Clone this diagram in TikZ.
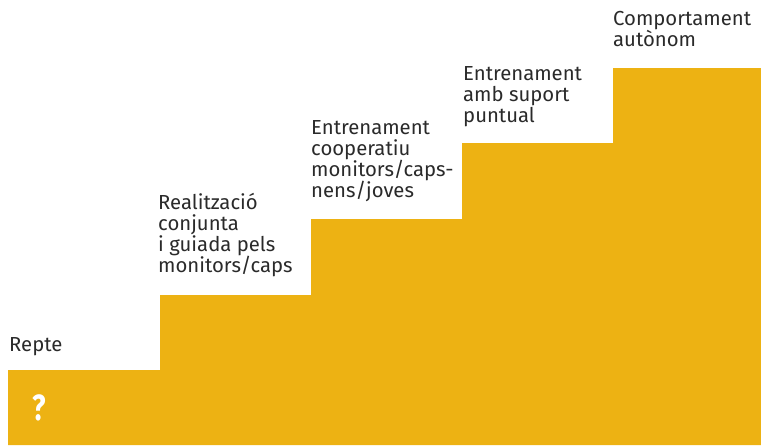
\documentclass[tikz,border=0pt]{standalone}
\usepackage{fontspec}
\setmainfont{Fira Sans}
\definecolor{stairgold}{HTML}{EDB213}
\definecolor{labelgray}{HTML}{2A2A2A}
\begin{document}
\begin{tikzpicture}[x=1pt,y=-1pt,
  lbl/.style={anchor=base west,inner sep=0pt,align=left,text=labelgray,
    font=\fontsize{20.3}{21}\selectfont},
  stairfill/.style={fill=stairgold,draw=none}]
\useasboundingbox (0,0) rectangle (761,445);
\fill[white] (0,0) rectangle (761,445);
\fill[stairfill] (8,445) -- (8,370) -- (160,370) -- (160,295) -- (311,295)
  -- (311,219) -- (462,219) -- (462,143) -- (613,143) -- (613,68)
  -- (761,68) -- (761,445) -- cycle;
\node[lbl] (s1) at (9,351) {Repte};
\node[lbl] (s2) at (158,272) {Realització\\conjunta\\i guiada pels\\monitors/caps};
\node[lbl] (s3) at (311,197) {Entrenament\\cooperatiu\\monitors/caps-\\nens/joves};
\node[lbl] (s4) at (463,122) {Entrenament\\amb suport\\puntual};
\node[lbl] (s5) at (613,46) {Comportament\\autònom};
\node[anchor=base west,inner sep=0pt,text=white,font=\bfseries\fontsize{28}{28}\selectfont,yscale=1.3] (q) at (32,420) {?};
\end{tikzpicture}
\end{document}
